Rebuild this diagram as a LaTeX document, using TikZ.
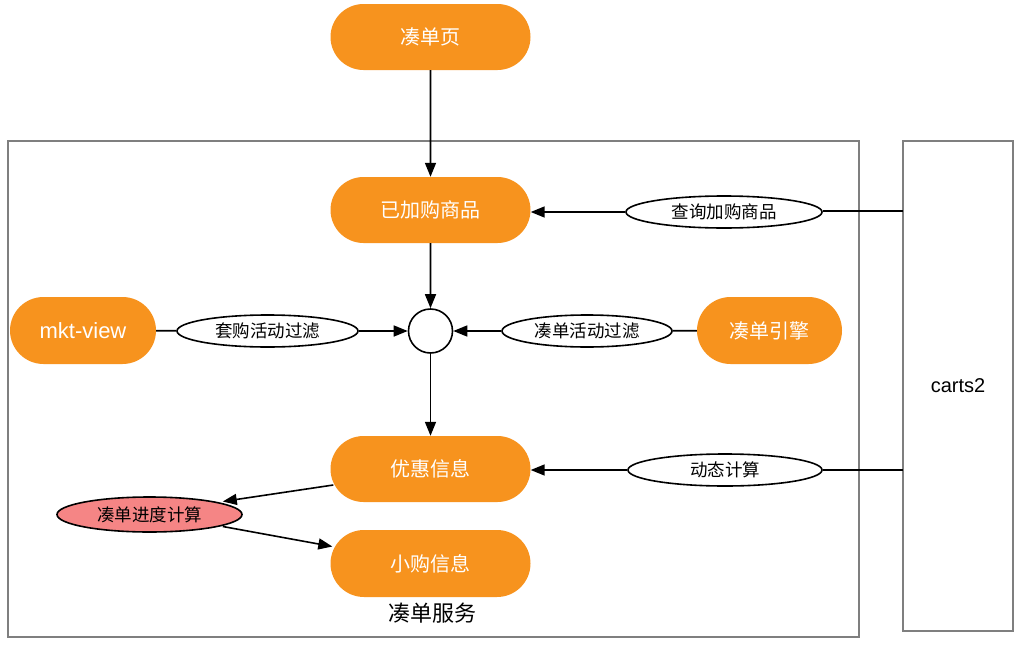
\documentclass[tikz,border=0pt]{standalone}
\usepackage{fontspec}
\setmainfont{Liberation Sans}
\newfontfamily\cjk{Noto Sans CJK SC}
\usetikzlibrary{arrows.meta,shapes.geometric,shapes.misc}
\definecolor{orng}{HTML}{F7931E}
\definecolor{redfill}{HTML}{F58585}
\definecolor{frame}{HTML}{7F7F7F}
\tikzset{
  obox/.style={rounded rectangle, fill=orng, draw=none, text=white, inner sep=0pt,
    minimum width=200pt, minimum height=66pt, font=\cjk\fontsize{20}{23}\selectfont},
  oval/.style={ellipse, draw=black, line width=1.6pt, fill=white, inner sep=0pt,
    minimum height=32pt, font=\cjk\fontsize{17.5}{20}\selectfont},
  arr/.style={line width=1.6pt, -{Triangle[length=14pt,width=11pt]}},
  ln/.style={line width=1.6pt},
  fr/.style={draw=frame, line width=1.3pt}
}
\begin{document}
\begin{tikzpicture}[x=1pt,y=-1pt]
\useasboundingbox (0,0) rectangle (1020,645);
% frames
\node[fr, rectangle, inner sep=0pt, minimum width=851pt, minimum height=496pt] (svc) at (433.5,389) {};
\node[fr, rectangle, inner sep=0pt, minimum width=110pt, minimum height=490pt, font=\fontsize{20}{23}\selectfont] (carts) at (958,386) {carts2};
\node[font=\cjk\fontsize{22}{25}\selectfont] (svclabel) at (432,613) {凑单服务};
% orange nodes
\node[obox] (top) at (430.5,37) {凑单页};
\node[obox] (yjg) at (430.5,210) {已加购商品};
\node[obox, minimum width=146pt, minimum height=67pt, font=\fontsize{22}{25}\selectfont] (mkt) at (83,330.5) {mkt-view};
\node[obox, minimum width=145pt, minimum height=67pt] (eng) at (769.5,330.5) {凑单引擎};
\node[obox] (yh) at (430.5,469) {优惠信息};
\node[obox, minimum height=67pt] (xg) at (430.5,563.5) {小购信息};
% circle
\node[circle, draw=black, line width=1.6pt, fill=white, minimum size=44pt, inner sep=0pt] (c) at (430.5,331) {};
% ovals
\node[oval, minimum width=196pt] (e1) at (724,212) {查询加购商品};
\node[oval, minimum width=181pt] (e2) at (267.5,331) {套购活动过滤};
\node[oval, minimum width=170pt] (e3) at (587,331) {凑单活动过滤};
\node[oval, minimum width=194pt] (e4) at (725,470) {动态计算};
\node[oval, fill=redfill, minimum width=185pt, minimum height=35pt] (e5) at (149.5,514.5) {凑单进度计算};
% connectors
\coordinate (k1) at (903,211);
\coordinate (k2) at (903,470);
\draw[arr] (top) -- (yjg);
\draw[arr] (yjg) -- (c);
\draw[arr] (c) -- (yh);
\draw[ln] (k1) -- (e1.east |- k1);
\draw[arr] (e1) -- (yjg.east |- e1);
\draw[ln] (k2) -- (e4.east |- k2);
\draw[arr] (e4) -- (yh.east |- e4);
\draw[ln] (mkt) -- (e2);
\draw[arr] (e2) -- (c);
\draw[ln] (eng) -- (e3);
\draw[arr] (e3) -- (c);
\draw[arr] ([xshift=3pt,yshift=-16pt]yh.west) -- ([xshift=-20pt,yshift=13pt]e5.east);
\draw[arr] ([xshift=-20pt,yshift=-12pt]e5.east) -- ([xshift=2pt,yshift=17pt]xg.west);
\end{tikzpicture}
\end{document}
